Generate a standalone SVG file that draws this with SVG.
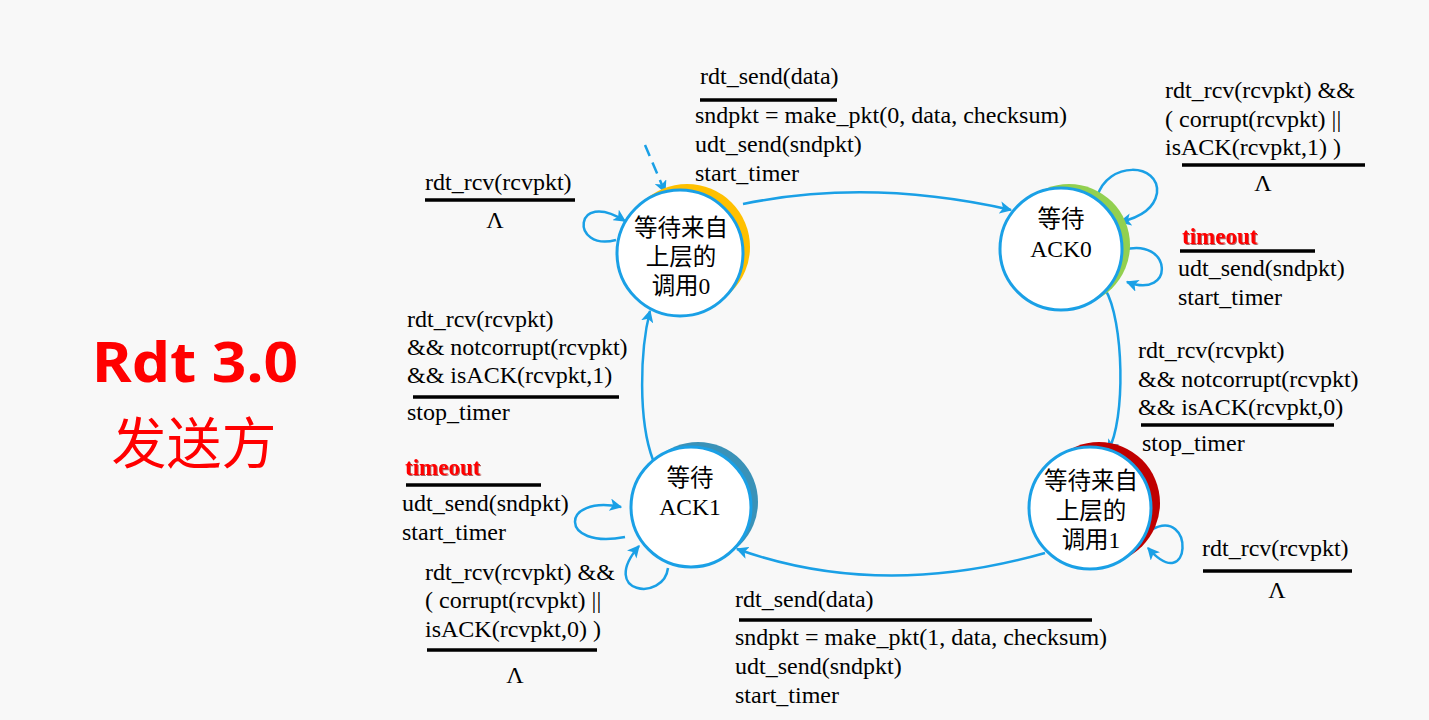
<svg xmlns="http://www.w3.org/2000/svg" width="1429" height="720" viewBox="0 0 1429 720">
<defs>
<marker id="ah" viewBox="0 0 10 10" refX="9" refY="5" markerWidth="5" markerHeight="5" orient="auto" markerUnits="strokeWidth">
<path d="M0,0 L10,5 L0,10 L2.5,5 z" fill="#1AA0E6"/>
</marker>
<filter id="sh" x="-10%" y="-30%" width="130%" height="160%">
<feDropShadow dx="1" dy="1" stdDeviation="0.6" flood-color="#7a0000" flood-opacity="0.6"/>
</filter>
<style>
.st{fill:#fff;stroke:#1AA0E6;stroke-width:3}
.nl{font-size:23.5px;fill:#000;text-anchor:middle}
.lb{font-size:24px;fill:#000}
.lm{text-anchor:middle}
.to{font-size:23px;font-weight:bold;fill:#FF0000;filter:url(#sh)}
.bar{stroke:#000;stroke-width:3.5}
.cn{fill:none;stroke:#1AA0E6;stroke-width:2.5;marker-end:url(#ah)}
</style>
</defs>
<rect width="1429" height="720" fill="#F8F8F8"/>

<g id="title">
<text x="195" y="382" font-family="Noto Sans, sans-serif" font-weight="bold" fill="#FF0000" text-anchor="middle" font-size="56" textLength="206" lengthAdjust="spacingAndGlyphs">Rdt 3.0</text>
<text x="194" y="463" font-family="Noto Sans CJK SC, sans-serif" font-size="55" fill="#FF0000" text-anchor="middle">发送方</text>
</g>

<g id="connectors">
<path class="cn" d="M645,145 L665,192" stroke-dasharray="12,7"/>
<path class="cn" d="M743,204 Q 870,178 1011,210"/>
<path class="cn" d="M1105,289 C 1124,320 1126,420 1108,451"/>
<path class="cn" d="M1045,553 Q 880,600 737,549"/>
<path class="cn" d="M653,460 C 638,420 640,350 650,311"/>
<path class="cn" d="M616,240 C 570,252 573,188 625,221"/>
<path class="cn" d="M1097,197 C 1108,160 1160,163 1157,193 C 1154,210 1138,218 1120,222"/>
<path class="cn" d="M1123,250 C 1172,236 1176,300 1127,282"/>
<path class="cn" d="M1151,530 C 1195,505 1192,598 1148,548"/>
<path class="cn" d="M625,537 C 558,550 560,494 621,507"/>
<path class="cn" d="M668,568 C 664,602 598,594 639,546"/>
</g>

<g id="state-wait-call0" font-family="Liberation Serif, Noto Sans CJK SC, serif">
<circle cx="687" cy="247" r="63" fill="#FFC000"/>
<circle class="st" cx="680" cy="253" r="63"/>
<text class="nl" x="681" y="236">等待来自</text>
<text class="nl" x="681" y="265">上层的</text>
<text class="nl" x="681" y="294">调用0</text>
</g>

<g id="state-wait-ack0" font-family="Liberation Serif, Noto Sans CJK SC, serif">
<circle cx="1069" cy="245" r="61" fill="#92D050"/>
<circle class="st" cx="1061" cy="249" r="61"/>
<text class="nl" x="1061" y="227">等待</text>
<text class="nl" x="1061" y="257">ACK0</text>
</g>

<g id="state-wait-call1" font-family="Liberation Serif, Noto Sans CJK SC, serif">
<circle cx="1099" cy="503" r="61" fill="#C00000"/>
<circle class="st" cx="1090" cy="508" r="61"/>
<text class="nl" x="1091" y="489">等待来自</text>
<text class="nl" x="1091" y="519">上层的</text>
<text class="nl" x="1091" y="548">调用1</text>
</g>

<g id="state-wait-ack1" font-family="Liberation Serif, Noto Sans CJK SC, serif">
<circle cx="698" cy="502" r="60" fill="#3A92B8"/>
<circle class="st" cx="691" cy="507" r="60"/>
<text class="nl" x="690" y="486">等待</text>
<text class="nl" x="690" y="515">ACK1</text>
</g>

<g id="labels" font-family="Liberation Serif, serif">
<text class="lb" x="700" y="84">rdt_send(data)</text>
<line class="bar" x1="700" y1="100" x2="837" y2="100"/>
<text class="lb" x="695" y="123">sndpkt = make_pkt(0, data, checksum)</text>
<text class="lb" x="695" y="152">udt_send(sndpkt)</text>
<text class="lb" x="695" y="181">start_timer</text>

<text class="lb" x="425" y="190">rdt_rcv(rcvpkt)</text>
<line class="bar" x1="425" y1="200" x2="575" y2="200"/>
<text class="lb lm" x="495" y="228">Λ</text>

<text class="lb" x="407" y="327">rdt_rcv(rcvpkt)</text>
<text class="lb" x="407" y="355">&amp;&amp; notcorrupt(rcvpkt)</text>
<text class="lb" x="407" y="383">&amp;&amp; isACK(rcvpkt,1)</text>
<line class="bar" x1="413" y1="397" x2="619" y2="397"/>
<text class="lb" x="407" y="420">stop_timer</text>

<text class="to" x="405" y="475">timeout</text>
<line class="bar" x1="406" y1="485" x2="541" y2="485"/>
<text class="lb" x="402" y="511">udt_send(sndpkt)</text>
<text class="lb" x="402" y="540">start_timer</text>
<text class="lb" x="425" y="580">rdt_rcv(rcvpkt) &amp;&amp;</text>
<text class="lb" x="425" y="608">( corrupt(rcvpkt) ||</text>
<text class="lb" x="425" y="637">isACK(rcvpkt,0) )</text>
<line class="bar" x1="427" y1="650" x2="597" y2="650"/>
<text class="lb lm" x="515" y="683">Λ</text>

<text class="lb" x="735" y="607">rdt_send(data)</text>
<line class="bar" x1="739" y1="620" x2="1092" y2="620"/>
<text class="lb" x="735" y="645">sndpkt = make_pkt(1, data, checksum)</text>
<text class="lb" x="735" y="674">udt_send(sndpkt)</text>
<text class="lb" x="735" y="703">start_timer</text>

<text class="lb" x="1165" y="98">rdt_rcv(rcvpkt) &amp;&amp;</text>
<text class="lb" x="1165" y="127">( corrupt(rcvpkt) ||</text>
<text class="lb" x="1165" y="155">isACK(rcvpkt,1) )</text>
<line class="bar" x1="1182" y1="165" x2="1365" y2="165"/>
<text class="lb lm" x="1263" y="191">Λ</text>

<text class="to" x="1182" y="244">timeout</text>
<line class="bar" x1="1180" y1="251" x2="1315" y2="251"/>
<text class="lb" x="1178" y="276">udt_send(sndpkt)</text>
<text class="lb" x="1178" y="305">start_timer</text>

<text class="lb" x="1138" y="358">rdt_rcv(rcvpkt)</text>
<text class="lb" x="1138" y="387">&amp;&amp; notcorrupt(rcvpkt)</text>
<text class="lb" x="1138" y="415">&amp;&amp; isACK(rcvpkt,0)</text>
<line class="bar" x1="1141" y1="425" x2="1334" y2="425"/>
<text class="lb" x="1142" y="451">stop_timer</text>

<text class="lb" x="1202" y="556">rdt_rcv(rcvpkt)</text>
<line class="bar" x1="1203" y1="571" x2="1352" y2="571"/>
<text class="lb lm" x="1277" y="598">Λ</text>
</g>
</svg>
